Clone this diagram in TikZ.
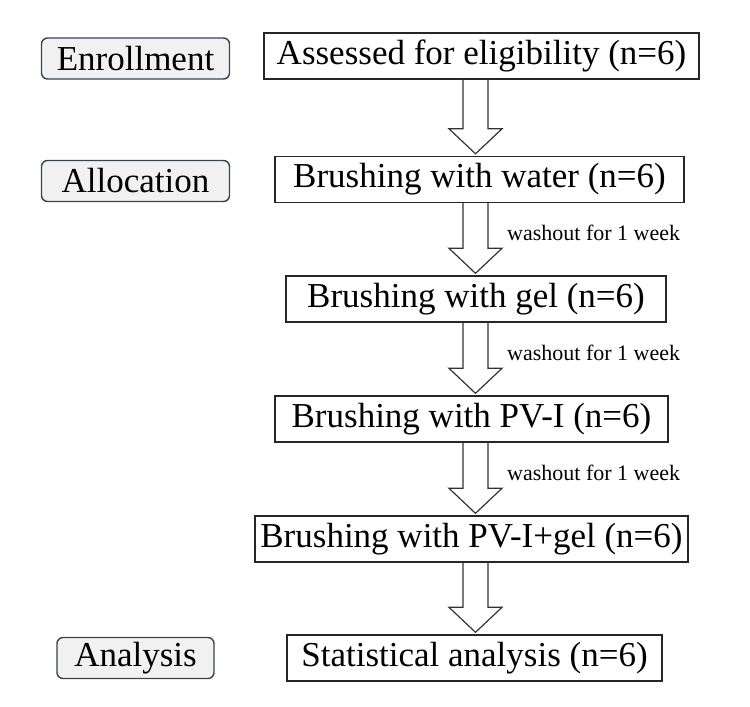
\documentclass[tikz,border=0pt]{standalone}
\usepackage{fontspec}
\setmainfont{Liberation Serif}
\usetikzlibrary{positioning,calc}
\definecolor{phaseline}{RGB}{58,68,78}
\definecolor{phasefill}{RGB}{241,241,241}

\newcommand\flowarrow[2]{%
  \path (axis |- #1.south) coordinate (s) (axis |- #2.north) coordinate (t);
  \draw[blockarrow] ($(s)+(-12.5,0)$) -- ($(t)+(-12.5,-27)$) -- ($(t)+(-26.5,-27)$)
    -- ($(t)+(0,-2)$) -- ($(t)+(26.5,-27)$) -- ($(t)+(12.5,-27)$) -- ($(s)+(12.5,0)$);
}

\begin{document}
\begin{tikzpicture}[
x=1pt, y=-1pt,
font=\fontsize{35}{42}\selectfont,
stepbox/.style={draw=black!85, line width=1.4pt, minimum height=46pt, inner xsep=5pt, inner ysep=0pt},
phase/.style={draw=phaseline, line width=1.4pt, rounded corners=6pt, fill=phasefill, minimum height=41pt, inner xsep=5pt, inner ysep=0pt},
note/.style={font=\fontsize{22}{26}\selectfont, anchor=west, inner sep=0pt},
blockarrow/.style={draw=black!80, line width=1.2pt, line join=miter}
]
    \useasboundingbox (0,0) rectangle (750,707);
    \coordinate (axis) at (475.5,0);

    % phases on the left
    \node[phase, minimum width=188pt] (enroll) at (135.5,58.5) {Enrollment};
    \node[phase, minimum width=188pt] (alloc) at (135.5,181) {Allocation};
    \node[phase, minimum width=157pt] (analysis) at (135.5,658) {Analysis};

    % steps
    \node[stepbox, minimum width=435pt] (assess) at (481.5,56) {Assessed for eligibility (n=6)};
    \node[stepbox, minimum width=409pt] (water) at (479.5,179.5) {Brushing with water (n=6)};
    \node[stepbox, minimum width=380pt] (gel) at (476,299) {Brushing with gel (n=6)};
    \node[stepbox, minimum width=393pt] (pvi) at (471.5,419) {Brushing with PV-I (n=6)};
    \node[stepbox, minimum width=433pt] (pvigel) at (471.5,539) {Brushing with PV-I+gel (n=6)};
    \node[stepbox, minimum width=375pt] (stats) at (474.5,658) {Statistical analysis (n=6)};

    % arrows
    \flowarrow{assess}{water}
    \flowarrow{water}{gel}
    \flowarrow{gel}{pvi}
    \flowarrow{pvi}{pvigel}
    \flowarrow{pvigel}{stats}

    % washout notes
    \node[note] (wash1) at (507,233) {washout for 1 week};
    \node[note] (wash2) at (507,353) {washout for 1 week};
    \node[note] (wash3) at (507,473) {washout for 1 week};
\end{tikzpicture}
\end{document}
